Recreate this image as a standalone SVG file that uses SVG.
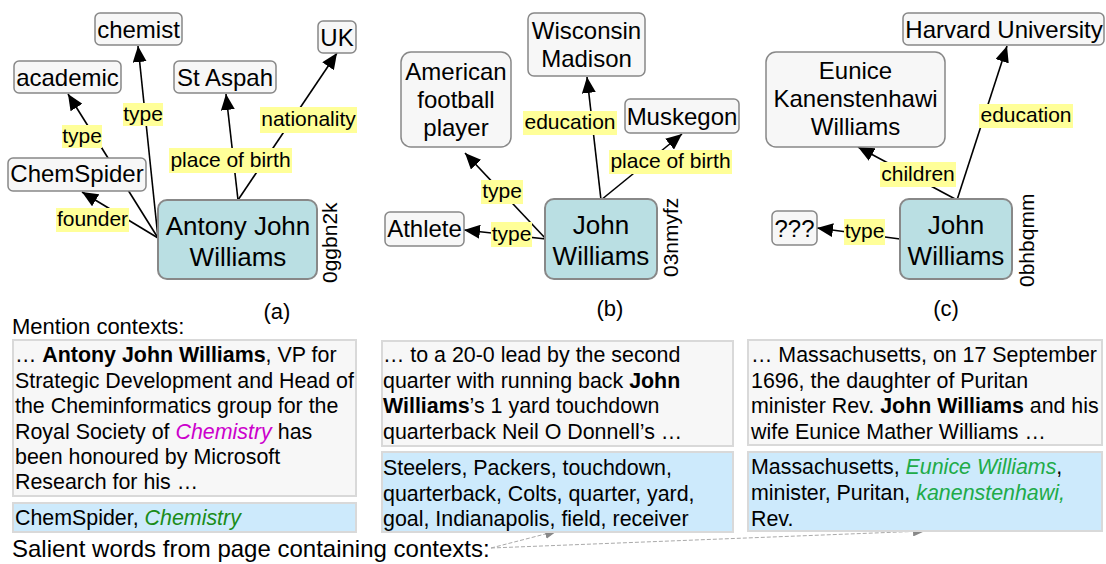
<svg xmlns="http://www.w3.org/2000/svg" width="1106" height="564" viewBox="0 0 1106 564">
<style>
text{font-family:"Liberation Sans",Arial,sans-serif;fill:#000}
.n rect{fill:#f7f7f7;stroke:#888;stroke-width:1.5}
.m rect{fill:#badfe3;stroke:#888;stroke-width:2}
.nt{font-size:24px;text-anchor:middle}
.mt{font-size:26px;text-anchor:middle}
.id{font-size:21px}
.e{stroke:#000;stroke-width:1.6;fill:none;marker-end:url(#ah)}
.lb{fill:#ffff99}
.lt{font-size:21px;text-anchor:middle}
.ctx{fill:#f7f7f7;stroke:#d9d9d9;stroke-width:2}
.sal{fill:#cdeafc;stroke:#d9d9d9;stroke-width:2}
.ct{font-size:21.4px}
.cap{font-size:22px}
.b{font-weight:bold}
.mag{fill:#cc00cc;font-style:italic}
.g1{fill:#1a8c1a;font-style:italic}
.g2{fill:#20ab48;font-style:italic}
.d{stroke:#aaa;stroke-width:1;stroke-dasharray:4 2;fill:none;marker-end:url(#ga)}
</style>
<defs>
<marker id="ah" markerUnits="userSpaceOnUse" markerWidth="16" markerHeight="14" refX="16" refY="7" orient="auto"><path d="M0,0 L16,7 L0,14 z" fill="#000"/></marker>
<marker id="ga" markerUnits="userSpaceOnUse" markerWidth="12" markerHeight="10" refX="12" refY="5" orient="auto"><path d="M0,0 L12,5 L0,10 z" fill="#888"/></marker>
</defs>

<g id="connectors">
<line class="e" x1="158" y1="238" x2="82" y2="192"/>
<line class="e" x1="158" y1="238" x2="68" y2="94"/>
<line class="e" x1="158" y1="238" x2="138" y2="46"/>
<line class="e" x1="238" y1="200" x2="226" y2="94"/>
<line class="e" x1="238" y1="200" x2="337" y2="53"/>
<line class="e" x1="601" y1="200" x2="587" y2="77"/>
<line class="e" x1="601" y1="200" x2="682" y2="134"/>
<line class="e" x1="546" y1="239" x2="465" y2="153"/>
<line class="e" x1="546" y1="239" x2="464" y2="230"/>
<line class="e" x1="957" y1="200" x2="1007" y2="46"/>
<line class="e" x1="957" y1="200" x2="858" y2="147"/>
<line class="e" x1="900" y1="239" x2="817" y2="228"/>
<path class="d" d="M491,548 L557,531"/>
<path class="d" d="M491,548 L925,531"/>
<g id="labels">
<rect class="lb" x="62" y="125" width="40" height="23"/><text class="lt" x="82" y="143">type</text>
<rect class="lb" x="123" y="103" width="40" height="23"/><text class="lt" x="143" y="121">type</text>
<rect class="lb" x="56" y="208" width="73" height="24"/><text class="lt" x="92.5" y="226">founder</text>
<rect class="lb" x="169" y="148" width="123" height="25"/><text class="lt" x="230.5" y="167">place of birth</text>
<rect class="lb" x="260" y="107" width="97" height="26"/><text class="lt" x="308.5" y="126">nationality</text>
<rect class="lb" x="523" y="111" width="94" height="24"/><text class="lt" x="570" y="129">education</text>
<rect class="lb" x="609" y="150" width="123" height="24"/><text class="lt" x="670.5" y="168">place of birth</text>
<rect class="lb" x="481" y="180" width="42" height="24"/><text class="lt" x="502" y="198">type</text>
<rect class="lb" x="491" y="222" width="41" height="25"/><text class="lt" x="511.5" y="241">type</text>
<rect class="lb" x="979" y="104" width="94" height="24"/><text class="lt" x="1026" y="122">education</text>
<rect class="lb" x="880" y="162" width="76" height="25"/><text class="lt" x="918" y="181">children</text>
<rect class="lb" x="844" y="219" width="41" height="26"/><text class="lt" x="864.5" y="238">type</text>
</g>
</g>

<g id="n-chemist" class="n"><rect x="95" y="13" width="87" height="32" rx="5"/><text class="nt" x="138.5" y="38">chemist</text></g>
<g id="n-academic" class="n"><rect x="14" y="61" width="107" height="32" rx="5"/><text class="nt" x="67.5" y="86">academic</text></g>
<g id="n-staspah" class="n"><rect x="174" y="61" width="102" height="32" rx="5"/><text class="nt" x="225" y="86">St Aspah</text></g>
<g id="n-uk" class="n"><rect x="318" y="21" width="38" height="32" rx="5"/><text class="nt" x="337" y="46">UK</text></g>
<g id="n-chemspider" class="n"><rect x="8" y="158" width="138" height="33" rx="5"/><text class="nt" x="77" y="182">ChemSpider</text></g>
<g id="n-antony" class="m"><rect x="158" y="200" width="159" height="79" rx="9"/><text class="mt" x="238" y="235">Antony John</text><text class="mt" x="238" y="266">Williams</text><text class="id" transform="translate(337,283) rotate(-90)">0ggbn2k</text></g>

<g id="n-wisconsin" class="n"><rect x="528" y="13" width="117" height="63" rx="6"/><text class="nt" x="586.5" y="39">Wisconsin</text><text class="nt" x="586.5" y="67">Madison</text></g>
<g id="n-afp" class="n"><rect x="401" y="52" width="110" height="95" rx="10"/><text class="nt" x="456" y="80">American</text><text class="nt" x="456" y="108">football</text><text class="nt" x="456" y="136">player</text></g>
<g id="n-muskegon" class="n"><rect x="625" y="99" width="114" height="34" rx="5"/><text class="nt" x="682" y="125">Muskegon</text></g>
<g id="n-athlete" class="n"><rect x="385" y="212" width="79" height="34" rx="5"/><text class="nt" x="424.5" y="237">Athlete</text></g>
<g id="n-john1" class="m"><rect x="545" y="199" width="112" height="80" rx="9"/><text class="mt" x="601" y="234">John</text><text class="mt" x="601" y="265">Williams</text><text class="id" transform="translate(678,277) rotate(-90)">03nmyfz</text></g>

<g id="n-harvard" class="n"><rect x="903" y="13" width="201" height="32" rx="5"/><text class="nt" x="1004" y="38">Harvard University</text></g>
<g id="n-eunice" class="n"><rect x="766" y="52" width="179" height="95" rx="10"/><text class="nt" x="855.5" y="79">Eunice</text><text class="nt" x="855.5" y="107">Kanenstenhawi</text><text class="nt" x="855.5" y="135">Williams</text></g>
<g id="n-unknown" class="n"><rect x="772" y="211" width="45" height="34" rx="5"/><text class="nt" x="794.5" y="237">???</text></g>
<g id="n-john2" class="m"><rect x="900" y="199" width="112" height="80" rx="9"/><text class="mt" x="956" y="234">John</text><text class="mt" x="956" y="265">Williams</text><text class="id" transform="translate(1034,287) rotate(-90)">0bhbqmm</text></g>

<g id="captions">
<text class="cap" x="277" y="319" text-anchor="middle">(a)</text>
<text class="cap" x="610" y="316" text-anchor="middle">(b)</text>
<text class="cap" x="946" y="316" text-anchor="middle">(c)</text>
<text class="cap" x="12" y="334">Mention contexts:</text>
<text x="12" y="557" style="font-size:24px">Salient words from page containing contexts:</text>
</g>

<g id="context-a">
<rect class="ctx" x="13" y="340" width="343" height="156"/>
<text class="ct" x="15" y="362">… <tspan class="b">Antony John Williams</tspan>, VP for</text>
<text class="ct" x="15" y="388">Strategic Development and Head of</text>
<text class="ct" x="15" y="413">the Cheminformatics group for the</text>
<text class="ct" x="15" y="438.5">Royal Society of <tspan class="mag">Chemistry</tspan> has</text>
<text class="ct" x="15" y="464">been honoured by Microsoft</text>
<text class="ct" x="15" y="489">Research for his …</text>
<rect class="sal" x="13" y="503" width="343" height="29"/>
<text class="ct" x="15" y="525">ChemSpider, <tspan class="g1">Chemistry</tspan></text>
</g>

<g id="context-b">
<rect class="ctx" x="382" y="341" width="351" height="105"/>
<text class="ct" x="383" y="362">… to a 20-0 lead by the second</text>
<text class="ct" x="383" y="388">quarter with running back <tspan class="b">John</tspan></text>
<text class="ct" x="383" y="413"><tspan class="b">Williams</tspan>’s 1 yard touchdown</text>
<text class="ct" x="383" y="438.5">quarterback Neil O Donnell’s …</text>
<rect class="sal" x="382" y="452" width="351" height="80"/>
<text class="ct" x="383" y="475">Steelers, Packers, touchdown,</text>
<text class="ct" x="383" y="500.5">quarterback, Colts, quarter, yard,</text>
<text class="ct" x="383" y="525.5">goal, Indianapolis, field, receiver</text>
</g>

<g id="context-c">
<rect class="ctx" x="748" y="340" width="354" height="105"/>
<text class="ct" x="751" y="362">… Massachusetts, on 17 September</text>
<text class="ct" x="751" y="388">1696, the daughter of Puritan</text>
<text class="ct" x="751" y="413">minister Rev. <tspan class="b">John Williams</tspan> and his</text>
<text class="ct" x="751" y="438.5">wife Eunice Mather Williams …</text>
<rect class="sal" x="748" y="452" width="354" height="79"/>
<text class="ct" x="751" y="474">Massachusetts, <tspan class="g2">Eunice Williams</tspan>,</text>
<text class="ct" x="751" y="500">minister, Puritan, <tspan class="g2">kanenstenhawi,</tspan></text>
<text class="ct" x="751" y="525.5">Rev.</text>
</g>
</svg>
